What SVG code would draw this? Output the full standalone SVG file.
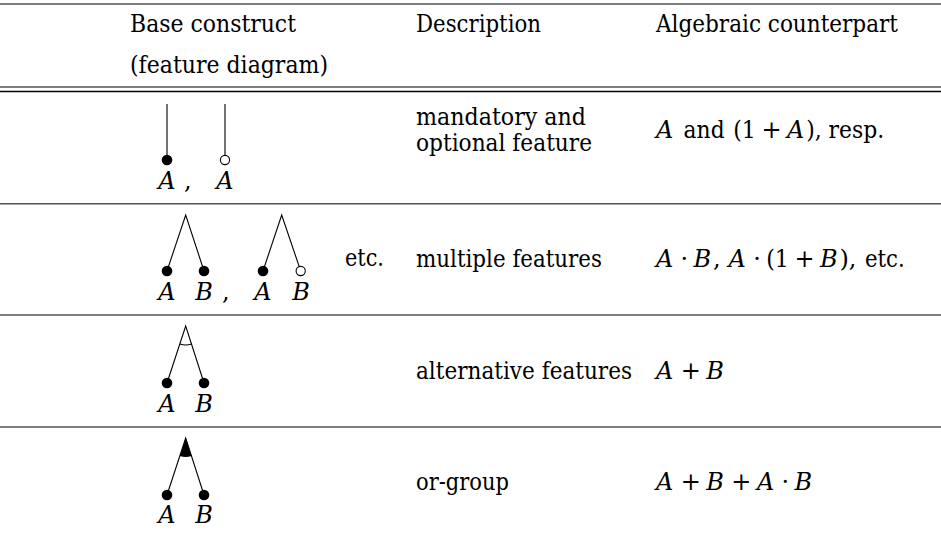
<svg xmlns="http://www.w3.org/2000/svg" width="941" height="537" viewBox="0 0 941 537">
<style>
text{font-family:'DejaVu Serif','Liberation Serif',serif;font-size:24px;fill:#000}
.i{font-style:italic}
.c{text-anchor:middle}
.lab{font-style:italic;text-anchor:middle}
.rule{stroke:#555;stroke-width:1.6}
.edge{stroke:#000;stroke-width:1.1;fill:none}
.full{fill:#000}
.open{fill:#fff;stroke:#000;stroke-width:1.1}
</style>
<rect width="941" height="537" fill="#fff"/>
<g id="rules">
<line class="rule" x1="0" y1="4" x2="941" y2="4"/>
<line class="rule" x1="0" y1="87" x2="941" y2="87"/>
<line x1="0" y1="91.5" x2="941" y2="91.5" stroke="#000" stroke-width="1.6"/>
<line class="rule" x1="0" y1="203.7" x2="941" y2="203.7"/>
<line class="rule" x1="0" y1="315" x2="941" y2="315"/>
<line class="rule" x1="0" y1="427" x2="941" y2="427"/>
</g>
<g id="header">
<text x="130" y="32" textLength="166" lengthAdjust="spacingAndGlyphs">Base construct</text>
<text x="130" y="73" textLength="198" lengthAdjust="spacingAndGlyphs">(feature diagram)</text>
<text x="416" y="32" textLength="125" lengthAdjust="spacingAndGlyphs">Description</text>
<text x="656" y="32" textLength="242" lengthAdjust="spacingAndGlyphs">Algebraic counterpart</text>
</g>
<g id="connectors">
<line class="edge" x1="167" y1="104" x2="167" y2="160"/>
<line class="edge" x1="225" y1="104" x2="225" y2="160"/>
<path class="edge" d="M167 271 L185.7 215 L204 271"/>
<path class="edge" d="M263 271 L281.7 215 L300.7 271"/>
<path class="edge" d="M167 383 L185.7 326 L204 383"/>
<path class="edge" d="M179.8 344.05 A19 19 0 0 0 191.6 344.05"/>
<path class="edge" d="M167 495 L185.7 438 L204 495"/>
<path class="full" d="M185.7 438 L179.8 456.05 A19 19 0 0 0 191.6 456.05 Z"/>
</g>
<g id="row1-mandatory">
<circle class="full" cx="167" cy="160" r="5.3"/>
<text class="lab" x="167" y="189">A</text>
</g>
<text x="184" y="189">,</text>
<g id="row1-optional">
<circle class="open" cx="225" cy="160" r="4.6"/>
<text class="lab" x="225" y="189">A</text>
</g>
<g id="row1-text">
<text x="416" y="125" textLength="170" lengthAdjust="spacingAndGlyphs">mandatory and</text>
<text x="416" y="151" textLength="176" lengthAdjust="spacingAndGlyphs">optional feature</text>
<text class="i" x="656" y="138">A</text>
<text x="683.6" y="138" textLength="41" lengthAdjust="spacingAndGlyphs">and</text>
<text x="733.2" y="138" textLength="22.7" lengthAdjust="spacingAndGlyphs">(1</text>
<text class="c" x="771.5" y="138">+</text>
<text class="i" x="787.1" y="138">A</text>
<text x="806.2" y="138" textLength="78" lengthAdjust="spacingAndGlyphs">), resp.</text>
</g>
<g id="row2-multiple">
<circle class="full" cx="167" cy="271" r="5.3"/>
<circle class="full" cx="204" cy="271" r="5.3"/>
<text class="lab" x="167" y="300">A</text>
<text class="lab" x="204" y="300">B</text>
</g>
<text x="222" y="300">,</text>
<g id="row2-multiple-optional">
<circle class="full" cx="263" cy="271" r="5.3"/>
<circle class="open" cx="300.7" cy="271" r="4.6"/>
<text class="lab" x="263" y="300">A</text>
<text class="lab" x="301" y="300">B</text>
</g>
<g id="row2-text">
<text x="345" y="266" textLength="39" lengthAdjust="spacingAndGlyphs">etc.</text>
<text x="416" y="267" textLength="186" lengthAdjust="spacingAndGlyphs">multiple features</text>
<text class="i" x="656" y="267">A</text>
<text class="c" x="684.4" y="267">·</text>
<text class="i" x="693.6" y="267">B</text>
<text x="713" y="267">,</text>
<text class="i" x="728.6" y="267">A</text>
<text class="c" x="757" y="267">·</text>
<text x="766.2" y="267" textLength="22.7" lengthAdjust="spacingAndGlyphs">(1</text>
<text class="c" x="804.5" y="267">+</text>
<text class="i" x="820.1" y="267">B</text>
<text x="839.5" y="267" textLength="17" lengthAdjust="spacingAndGlyphs">),</text>
<text x="865" y="267" textLength="39.7" lengthAdjust="spacingAndGlyphs">etc.</text>
</g>
<g id="row3-alternative">
<circle class="full" cx="167" cy="383" r="5.3"/>
<circle class="full" cx="204" cy="383" r="5.3"/>
<text class="lab" x="167" y="412">A</text>
<text class="lab" x="204" y="412">B</text>
</g>
<g id="row3-text">
<text x="416" y="379" textLength="216" lengthAdjust="spacingAndGlyphs">alternative features</text>
<text class="i" x="656" y="379">A</text>
<text class="c" x="690.7" y="379">+</text>
<text class="i" x="706.3" y="379">B</text>
</g>
<g id="row4-or">
<circle class="full" cx="167" cy="495" r="5.3"/>
<circle class="full" cx="204" cy="495" r="5.3"/>
<text class="lab" x="167" y="523">A</text>
<text class="lab" x="204" y="523">B</text>
</g>
<g id="row4-text">
<text x="416" y="490" textLength="93" lengthAdjust="spacingAndGlyphs">or-group</text>
<text class="i" x="656" y="490">A</text>
<text class="c" x="690.7" y="490">+</text>
<text class="i" x="706.3" y="490">B</text>
<text class="c" x="741.3" y="490">+</text>
<text class="i" x="756.9" y="490">A</text>
<text class="c" x="785.2" y="490">·</text>
<text class="i" x="794.5" y="490">B</text>
</g>
</svg>
